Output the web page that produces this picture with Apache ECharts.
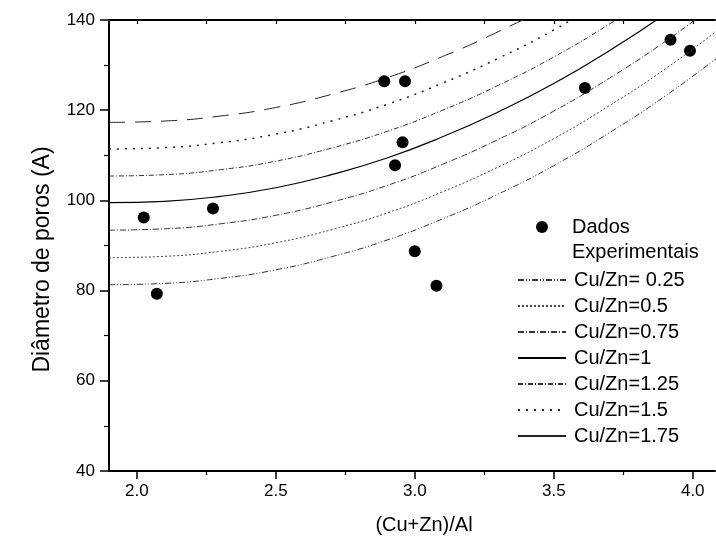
<!DOCTYPE html>
<html>
<head>
<meta charset="utf-8">
<script src="https://cdn.jsdelivr.net/npm/echarts@6/dist/echarts.min.js"></script>
<style>
html,body{margin:0;padding:0;background:#fff;}
#chart{width:716px;height:540px;}
</style>
</head>
<body>
<div id="chart"></div>
<script>
// Experimental points
const expX = [2.025, 2.072, 2.274, 2.89, 2.965, 2.956, 2.929, 3.0, 3.078, 3.612, 3.92, 3.99];
const expY = [96.2, 79.3, 98.2, 126.4, 126.4, 112.9, 107.8, 88.7, 81.1, 124.9, 135.6, 133.2];

// Model curves
const curveX = [1.9, 2.1, 2.3, 2.5, 2.7, 2.9, 3.1, 3.3, 3.5, 3.7, 3.9, 4.1];
const cuzn025 = [81.3, 81.6, 82.7, 84.6, 87.5, 91.2, 95.9, 101.4, 107.7, 115.0, 123.1, 132.2];
const cuzn050 = [87.3, 87.6, 88.7, 90.6, 93.5, 97.2, 101.9, 107.4, 113.7, 121.0, 129.1, 138.2];
const cuzn075 = [93.4, 93.7, 94.8, 96.7, 99.6, 103.3, 108.0, 113.5, 119.8, 127.1, 135.2, 144.3];
const cuzn100 = [99.5, 99.8, 100.9, 102.8, 105.7, 109.4, 114.1, 119.6, 125.9, 133.2, 141.3, 150.4];
const cuzn125 = [105.4, 105.7, 106.8, 108.7, 111.6, 115.3, 120.0, 125.5, 131.8, 139.1, 147.2, 156.3];
const cuzn150 = [111.4, 111.7, 112.8, 114.7, 117.6, 121.3, 126.0, 131.5, 137.8, 145.1, 153.2, 162.3];
const cuzn175 = [117.3, 117.6, 118.7, 120.6, 123.5, 127.2, 131.9, 137.4, 143.7, 151.0, 159.1, 168.2];

const curveNames = ['Cu/Zn= 0.25', 'Cu/Zn=0.5', 'Cu/Zn=0.75', 'Cu/Zn=1', 'Cu/Zn=1.25', 'Cu/Zn=1.5', 'Cu/Zn=1.75'];
const curveData = [cuzn025, cuzn050, cuzn075, cuzn100, cuzn125, cuzn150, cuzn175];

// Tick labels
const xMajorTicks = [2.0, 2.5, 3.0, 3.5, 4.0];
const xMinorTicks = [2.25, 2.75, 3.25, 3.75];
const xTopTicks = [2.0, 2.25, 2.5, 2.75, 3.0, 3.25, 3.5, 3.75, 4.0];

const FONT = 'Liberation Sans, Arial, sans-serif';
const styles = [
  {type: [6, 2, 1, 2, 1, 2], width: 1, color: '#333'},
  {type: [2, 2], width: 1, color: '#444'},
  {type: [6, 2, 1, 2], width: 1, color: '#333'},
  {type: 'solid', width: 1.2, color: '#000'},
  {type: [5, 2, 1, 2], width: 1, color: '#333'},
  {type: [2, 6], width: 1.5, color: '#222'},
  {type: [16, 10], width: 1, color: '#222'}
];

const series = curveNames.map((n, i) => ({
  name: n,
  type: 'line',
  xAxisIndex: 0,
  yAxisIndex: 0,
  smooth: true,
  symbol: 'none',
  silent: true,
  itemStyle: {color: styles[i].color, opacity: 0},
  lineStyle: styles[i],
  data: curveX.map((x, j) => [x, curveData[i][j]])
}));
series.push({
  name: 'Dados Experimentais',
  type: 'scatter',
  xAxisIndex: 0,
  yAxisIndex: 0,
  symbol: 'circle',
  symbolSize: 12,
  itemStyle: {color: '#000', opacity: 1},
  data: expX.map((x, i) => [x, expY[i]])
});

const chart = echarts.init(document.getElementById('chart'));
chart.setOption({
  animation: false,
  backgroundColor: '#fff',
  textStyle: {fontFamily: FONT},
  grid: {left: 109, right: 1, top: 20, bottom: 67, containLabel: false},
  legend: [
    {
      orient: 'vertical', left: 536, top: 213, padding: 0,
      itemWidth: 12, itemHeight: 12,
      data: ['Dados Experimentais'],
      formatter: () => 'Dados',
      itemStyle: {color: '#000', opacity: 1},
      textStyle: {fontFamily: FONT, fontSize: 20, color: '#000', lineHeight: 28, padding: [0, 0, 0, 19]}
    },
    {
      orient: 'vertical', left: 517, top: 267, padding: 0,
      itemWidth: 48, itemHeight: 14, itemGap: 0,
      itemStyle: {opacity: 0},
      data: curveNames.map((n, i) => i === 6 ? {name: n, lineStyle: {type: 'solid'}} : {name: n}),
      textStyle: {fontFamily: FONT, fontSize: 20, color: '#000', lineHeight: 26, padding: [0, 0, 0, 3]}
    }
  ],
  graphic: [
    {
      type: 'text', left: 572, top: 242, silent: true,
      style: {text: 'Experimentais', font: '20px ' + FONT, fill: '#000'}
    }
  ],
  xAxis: [
    {
      type: 'value', position: 'bottom', min: 1.9, max: 4.08,
      axisLine: {show: true, lineStyle: {color: '#000', width: 2}},
      axisTick: {show: true, inside: false, length: 8, customValues: xMajorTicks, lineStyle: {color: '#000', width: 1.5}},
      axisLabel: {customValues: xMajorTicks, formatter: v => v.toFixed(1), fontSize: 17, color: '#000', margin: 12, fontFamily: FONT},
      splitLine: {show: false},
      name: '(Cu+Zn)/Al', nameLocation: 'middle', nameGap: 44,
      nameTextStyle: {fontSize: 20, color: '#000', fontFamily: FONT, padding: [0, 0, 0, 24]}
    },
    {
      type: 'value', position: 'top', min: 1.9, max: 4.08,
      axisLine: {show: true, lineStyle: {color: '#000', width: 2}},
      axisTick: {show: true, inside: true, length: 4, customValues: xTopTicks, lineStyle: {color: '#000', width: 1.2}},
      axisLabel: {show: false},
      splitLine: {show: false}
    },
    {
      type: 'value', position: 'bottom', min: 1.9, max: 4.08,
      axisLine: {show: false},
      axisTick: {show: true, inside: false, length: 4, customValues: xMinorTicks, lineStyle: {color: '#000', width: 1.2}},
      axisLabel: {show: false},
      splitLine: {show: false}
    }
  ],
  yAxis: [
    {
      type: 'value', min: 40, max: 140, interval: 20,
      axisLine: {show: true, lineStyle: {color: '#000', width: 2}},
      axisTick: {show: true, inside: false, length: 9, lineStyle: {color: '#000', width: 1.5}},
      minorTick: {show: true, splitNumber: 2, length: 5, lineStyle: {color: '#000', width: 1.2}},
      axisLabel: {fontSize: 17, color: '#000', margin: 14, fontFamily: FONT},
      splitLine: {show: false},
      minorSplitLine: {show: false},
      name: 'Diâmetro de poros (A)', nameLocation: 'middle', nameGap: 55,
      nameTextStyle: {fontSize: 23, color: '#000', fontFamily: FONT, padding: [0, 28, 0, 0]}
    }
  ],
  series: series
});
</script>
</body>
</html>
